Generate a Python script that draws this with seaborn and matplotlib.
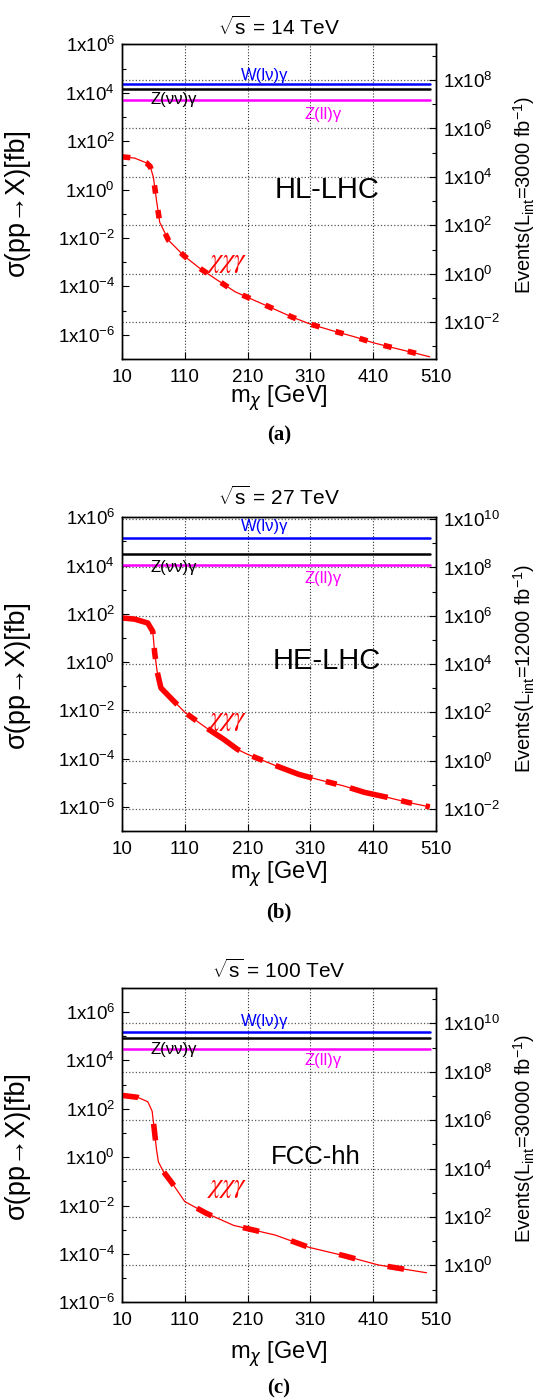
import numpy as np
import pandas as pd
import matplotlib
matplotlib.use("Agg")
import matplotlib.pyplot as plt
import seaborn as sns
from matplotlib.ticker import FixedLocator, FuncFormatter, NullFormatter

sns.set_theme(style="ticks")
plt.rcParams["font.family"] = ["Liberation Sans", "DejaVu Sans"]
plt.rcParams["mathtext.fontset"] = "custom"
plt.rcParams["mathtext.rm"] = "Liberation Sans"
plt.rcParams["mathtext.it"] = "Liberation Sans:italic"
plt.rcParams["mathtext.bf"] = "Liberation Sans:bold"

# ---------------- data ----------------
energies = ["14", "27", "100"]
collider_names = ["HL-LHC", "HE-LHC", "FCC-hh"]
luminosities = [3000, 12000, 30000]
panel_tags = ["(a)", "(b)", "(c)"]

mass_a = [10, 30, 49, 55, 60, 65, 70, 84, 108, 133, 160, 190, 220, 250, 280,
          310, 345, 380, 410, 442, 475, 500]
xsec_a = [22.4, 20.0, 12.6, 8.9, 3.2, 0.35, 0.045, 8.1e-3, 1.9e-3, 5.8e-4,
          1.95e-4, 6.0e-5, 2.7e-5, 1.23e-5, 5.5e-6, 2.75e-6, 1.48e-6, 8.3e-7,
          4.7e-7, 2.9e-7, 1.8e-7, 1.23e-7]

mass_b = [10, 30, 51, 59, 62, 66, 72, 90, 111, 144, 172, 194, 210, 254, 292,
          325, 363, 396, 432, 467, 500]
xsec_b = [67.6, 60.3, 41.7, 18.6, 2.5, 0.4, 0.085, 0.028, 7.9e-3, 1.9e-3,
          6.3e-4, 2.4e-4, 1.5e-4, 5.2e-5, 2.2e-5, 1.3e-5, 7.4e-6, 4.0e-6,
          2.5e-6, 1.5e-6, 1.0e-6]

mass_c = [10, 35, 51, 58, 62, 65, 68, 76, 90, 110, 144, 188, 254, 308, 363,
          418, 495]
xsec_c = [355, 295, 195, 79, 10, 2.0, 0.63, 0.25, 0.083, 0.0145, 4.8e-3,
          1.5e-3, 6.0e-4, 1.86e-4, 8.5e-5, 3.5e-5, 1.66e-5]

w_gamma = [2.3e4, 1.35e5, 1.48e5]
znn_gamma = [1.4e4, 3.0e4, 8.5e4]
zll_gamma = [5.0e3, 1.05e4, 3.0e4]
bkg_mass_range = [10, 500]

signal_mass = [mass_a, mass_b, mass_c]
signal_xsec = [xsec_a, xsec_b, xsec_c]

# ---------------- layout ----------------
W, H = 539, 1400
fig = plt.figure(figsize=(W / 100, H / 100), dpi=100)

ax_left, ax_right = 122, 436
panel_px = [(44.3, 359.0), (517.3, 831.0), (987.7, 1302.3)]
ylims = [(1e-7, 1e6), (1e-7, 1e6), (1e-6, 1e7)]
title_y = [27, 497, 970]
xlabel_y = [398, 874, 1354]
caption_y = [435, 912, 1388]
dash_styles = [(0, (1.5, 3.0)), (0, (7, 2.5, 2, 2.5)), (0, (3, 6))]
label_font_sizes = [21, 21, 18.5]
# label positions (mass, log10 sigma)
wlab = [(237, 4.72), (237, 5.61), (237, 5.60)]
znnlab = [(92, 3.70), (92, 3.93), (92, 4.43)]
zlllab = [(330, 3.08), (330, 3.48), (330, 4.01)]
namelab = [(336, 0.0), (336, 0.03), (319, 0.02)]
chilab = [(177, -3.05), (177, -2.44), (177, -1.29)]

BLUE = "#0000ff"
MAG = "#ff00ff"
RED = "#ff0000"

fmt = FuncFormatter(lambda v, p: r"$\mathregular{1x10^{%d}}$" % int(round(np.log10(v))))

for i in range(3):
    top, bot = panel_px[i]
    rect = [ax_left / W, 1 - bot / H, (ax_right - ax_left) / W, (bot - top) / H]
    ax = fig.add_axes(rect)
    ax2 = ax.twinx()
    ax.set_zorder(ax2.get_zorder() + 1)
    ax.patch.set_visible(False)
    ax2.patch.set_facecolor("white")

    lum = luminosities[i]
    lo, hi = ylims[i]

    # background lines
    for val, col in [(w_gamma[i], BLUE), (znn_gamma[i], "black"), (zll_gamma[i], MAG)]:
        sns.lineplot(x=bkg_mass_range, y=[val, val], ax=ax, color=col, lw=1.8,
                     estimator=None, sort=False, legend=False)

    # signal curve: thin line + thick dashes
    df = pd.DataFrame({"m": signal_mass[i], "s": signal_xsec[i]})
    sns.lineplot(data=df, x="m", y="s", ax=ax, color=RED, lw=0.9,
                 estimator=None, sort=False, legend=False)
    sns.lineplot(data=df, x="m", y="s", ax=ax, color=RED, lw=4.0,
                 linestyle=dash_styles[i], estimator=None, sort=False,
                 legend=False, solid_capstyle="butt", dash_capstyle="butt")

    ax.set_yscale("log")
    ax2.set_yscale("log")
    ax.set_xlim(10, 510)
    ax.set_ylim(lo, hi)
    ax2.set_ylim(lo * lum, hi * lum)

    # ticks
    ax.xaxis.set_major_locator(FixedLocator([10, 110, 210, 310, 410, 510]))
    ax.yaxis.set_major_locator(FixedLocator([10.0 ** k for k in range(-6, 7, 2)]))
    ax.yaxis.set_minor_locator(FixedLocator([10.0 ** k for k in range(-7, 8, 2)]))
    ax.yaxis.set_major_formatter(fmt)
    ax.yaxis.set_minor_formatter(NullFormatter())
    ax2.yaxis.set_major_locator(FixedLocator([10.0 ** k for k in range(-4, 13, 2)]))
    ax2.yaxis.set_minor_locator(FixedLocator([10.0 ** k for k in range(-5, 13, 2)]))
    ax2.yaxis.set_major_formatter(fmt)
    ax2.yaxis.set_minor_formatter(NullFormatter())

    ax.tick_params(axis="both", which="major", direction="in", length=5, width=0.8,
                   labelsize=13.5, color="black", labelcolor="black", pad=5)
    ax.tick_params(axis="y", which="minor", direction="in", length=3, width=0.8,
                   color="black")
    ax.tick_params(axis="x", pad=7)
    ax2.tick_params(axis="y", which="major", direction="in", length=5, width=0.8,
                    labelsize=13.5, color="black", labelcolor="black", pad=5)
    ax2.tick_params(axis="y", which="minor", direction="in", length=3, width=0.8,
                    color="black")

    # grids
    ax.grid(axis="x", which="major", linestyle=":", color="0.2", lw=0.8)
    ax.grid(axis="y", which="both", visible=False)
    ax2.grid(axis="y", which="major", linestyle=":", color="0.35", lw=0.9)

    for a in (ax, ax2):
        for sp in a.spines.values():
            sp.set_color("black")
            sp.set_linewidth(1.0)

    # axis labels
    ax.set_xlabel("")
    ax.set_ylabel("σ(pp→X)[fb]", fontsize=19.5, color="black")
    ax.yaxis.set_label_coords(-0.292, 0.5)
    ax2.set_ylabel(r"Events(L$_{\mathregular{int}}$=%d fb$^{\mathregular{-1}}$)" % lum,
                   fontsize=14.5, color="black")
    ax2.yaxis.set_label_coords(1.24, 0.52)

    # in-plot texts
    ax.text(wlab[i][0], 10 ** wlab[i][1], "W(lν)γ", color=BLUE, fontsize=12,
            ha="center", va="center")
    ax.text(znnlab[i][0], 10 ** znnlab[i][1], "Z(νν)γ", color="black", fontsize=12,
            ha="center", va="center")
    ax.text(zlllab[i][0], 10 ** zlllab[i][1], "Z(ll)γ", color=MAG, fontsize=12,
            ha="center", va="center")
    ax.text(namelab[i][0], 10 ** namelab[i][1], collider_names[i], color="black",
            fontsize=label_font_sizes[i], ha="center", va="center")
    ax.text(chilab[i][0], 10 ** chilab[i][1], r"$\chi\chi\gamma$", color=RED,
            fontsize=19, ha="center", va="center", math_fontfamily="stix")

    xc = (ax_left + ax_right) / 2 / W
    fig.text(xc, 1 - title_y[i] / H, r"$\sqrt{\mathregular{s}}$ = %s TeV" % energies[i],
             ha="center", va="center", fontsize=15, color="black")
    fig.text(xc, 1 - xlabel_y[i] / H, r"m$_{\chi}$ [GeV]", ha="center", va="center",
             fontsize=17, color="black", math_fontfamily="dejavusans")
    fig.text(xc, 1 - caption_y[i] / H, panel_tags[i], ha="center", va="center",
             fontsize=15, color="black", family="Liberation Serif", weight="bold")

fig.savefig("out.png", dpi=100, facecolor="white")
